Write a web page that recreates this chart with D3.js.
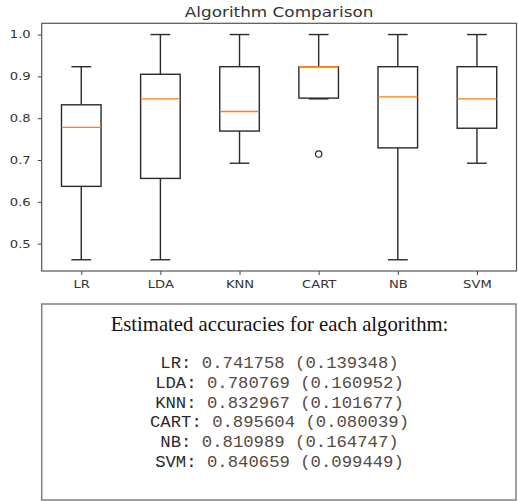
<!DOCTYPE html>
<html>
<head>
<meta charset="utf-8">
<script src="https://cdn.jsdelivr.net/npm/d3@7"></script>
<style>
html,body{margin:0;padding:0;background:#fff;}
svg{display:block;}
</style>
</head>
<body>
<svg id="chart" width="518" height="501"></svg>
<script>
// ---- data ----
const categories = ["LR", "LDA", "KNN", "CART", "NB", "SVM"];
const whiskerLow  = [0.4615, 0.4615, 0.6923, 0.8462, 0.4615, 0.6923];
const q1          = [0.6370, 0.6560, 0.7692, 0.8480, 0.7290, 0.7760];
const median      = [0.7780, 0.8462, 0.8160, 0.9231, 0.8510, 0.8462];
const q3          = [0.8320, 0.9050, 0.9231, 0.9231, 0.9231, 0.9231];
const whiskerHigh = [0.9231, 1.0, 1.0, 1.0, 1.0, 1.0];
const outliers    = [[], [], [], [0.7143], [], []];
const yTicks = [0.5, 0.6, 0.7, 0.8, 0.9, 1.0];
const meanAcc = ["0.741758", "0.780769", "0.832967", "0.895604", "0.810989", "0.840659"];
const stdAcc  = ["0.139348", "0.160952", "0.101677", "0.080039", "0.164747", "0.099449"];
const chartTitle = "Algorithm Comparison";
const panelTitle = "Estimated accuracies for each algorithm:";

// ---- layout ----
const svg = d3.select("#chart");
const ax = {left: 41.7, right: 516.5, top: 23.3, bottom: 271};
const ink = "#2a2a2a";
const stretch = 1.24;

const y = d3.scaleLinear().domain([0.4346, 1.0269]).range([ax.bottom, ax.top]);
const x = d3.scaleLinear().domain([0.5, categories.length + 0.5]).range([ax.left, ax.right]);
const step = x(2) - x(1);
const boxW = step * 0.5, capW = step * 0.25;

// title
svg.append("text").attr("transform", `translate(${(ax.left + ax.right) / 2},17.3) scale(${stretch},1)`)
  .attr("text-anchor", "middle").attr("font-family", "DejaVu Sans")
  .attr("font-size", 13.6).attr("fill", "#333").text(chartTitle);

// axes
const yAxis = d3.axisLeft(y).tickValues(yTicks).tickFormat(d3.format(".1f")).tickSize(4).tickPadding(7);
const gy = svg.append("g").attr("transform", `translate(${ax.left},0)`).call(yAxis);
const xAxis = d3.axisBottom(x).tickValues(categories.map((c, i) => i + 1))
  .tickFormat((d) => categories[d - 1]).tickSize(4).tickPadding(5);
const gx = svg.append("g").attr("transform", `translate(0,${ax.bottom})`).call(xAxis);
[gy, gx].forEach(g => {
  g.select(".domain").remove();
  g.selectAll(".tick line").attr("stroke", "#444").attr("stroke-width", 1);
  g.selectAll(".tick text").attr("font-family", "DejaVu Sans").attr("font-size", 10.6).attr("fill", "#333")
    .each(function () {
      const t = d3.select(this);
      const ox = +t.attr("x") || 0;
      t.attr("x", ox / stretch).attr("transform", `scale(${stretch},1)`);
    });
});

// frame
svg.append("rect").attr("x", ax.left).attr("y", ax.top)
  .attr("width", ax.right - ax.left).attr("height", ax.bottom - ax.top)
  .attr("fill", "none").attr("stroke", "#555").attr("stroke-width", 1.2);

// boxes
const boxes = svg.append("g");
categories.forEach((c, i) => {
  const cx = x(i + 1);
  const g = boxes.append("g");
  const line = (x1, y1, x2, y2, col, w) => g.append("line")
    .attr("x1", x1).attr("y1", y1).attr("x2", x2).attr("y2", y2)
    .attr("stroke", col || ink).attr("stroke-width", w || 1.4);
  // whiskers
  line(cx, y(q1[i]), cx, y(whiskerLow[i]));
  line(cx, y(q3[i]), cx, y(whiskerHigh[i]));
  line(cx - capW / 2, y(whiskerLow[i]), cx + capW / 2, y(whiskerLow[i]));
  line(cx - capW / 2, y(whiskerHigh[i]), cx + capW / 2, y(whiskerHigh[i]));
  // box
  g.append("rect").attr("x", cx - boxW / 2).attr("y", y(q3[i]))
    .attr("width", boxW).attr("height", Math.max(0.01, y(q1[i]) - y(q3[i])))
    .attr("fill", "none").attr("stroke", ink).attr("stroke-width", 1.4);
  // median
  line(cx - boxW / 2, y(median[i]), cx + boxW / 2, y(median[i]), "#ff7f0e", 1.4);
  // outliers
  outliers[i].forEach(v => g.append("circle").attr("cx", cx).attr("cy", y(v)).attr("r", 3.2)
    .attr("fill", "none").attr("stroke", ink).attr("stroke-width", 1.2));
});

// accuracy panel
svg.append("rect").attr("x", 41.7).attr("y", 304).attr("width", 474.3).attr("height", 196)
  .attr("fill", "none").attr("stroke", "#808080").attr("stroke-width", 1.5);
svg.append("text").attr("x", 279.5).attr("y", 330.5).attr("text-anchor", "middle")
  .attr("font-family", "Liberation Serif, Times New Roman, serif").attr("font-size", 20.7)
  .attr("fill", "#111").text(panelTitle);
const lines = svg.append("g").attr("font-family", "Liberation Mono, Courier New, monospace")
  .attr("font-size", 16).attr("text-anchor", "middle");
categories.forEach((c, i) => {
  const t = lines.append("text")
    .attr("transform", `translate(279.5,${368.3 + i * 19.7}) scale(1.08,1)`)
    .attr("xml:space", "preserve");
  t.append("tspan").attr("fill", "#2a2a2a").text(c + ":");
  t.append("tspan").attr("fill", "#554a42").text(" " + meanAcc[i] + " (" + stdAcc[i] + ")");
});
</script>
</body>
</html>
